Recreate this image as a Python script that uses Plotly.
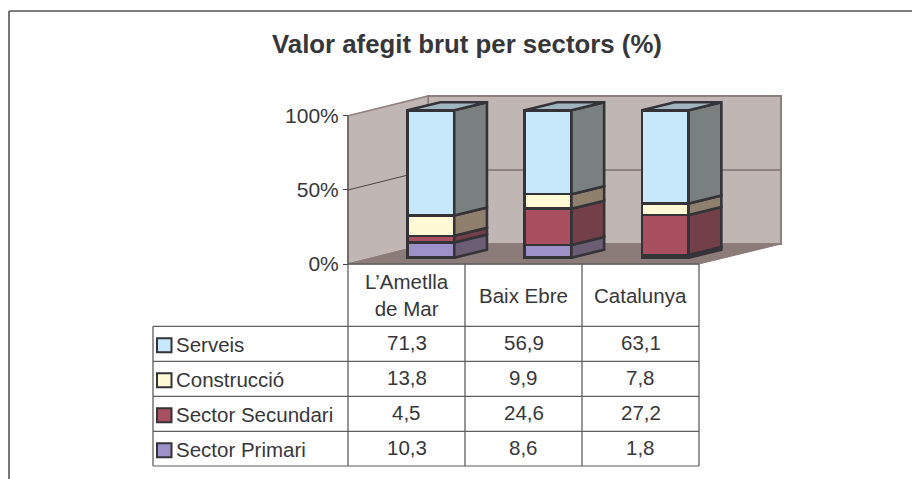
import plotly.graph_objects as go

W, H = 912, 479
TITLE = "Valor afegit brut per sectors (%)"
categories = ["L’Ametlla<br>de Mar", "Baix Ebre", "Catalunya"]
series_names = ["Serveis", "Construcció", "Sector Secundari", "Sector Primari"]
serveis = [71.3, 56.9, 63.1]
construccio = [13.8, 9.9, 7.8]
secundari = [4.5, 24.6, 27.2]
primari = [10.3, 8.6, 1.8]
ticks = [0, 50, 100]

FONT = "Liberation Sans"
TXT = "#37373b"
TABLE_SIZE = 20.5
front = {"Serveis": "#c6e8fa", "Construcció": "#fff9d6", "Sector Secundari": "#a8505f", "Sector Primari": "#9c92c8"}
side = {"Serveis": "#7a7f80", "Construcció": "#8f806d", "Sector Secundari": "#733f48", "Sector Primari": "#6b5d74"}
values = {"Serveis": serveis, "Construcció": construccio, "Sector Secundari": secundari, "Sector Primari": primari}
EDGE = "#333338"

X0, DX_PX = 430.9, 117.2
Y0, PX_PER = 257.7, 1.474
BW = 46.7 / DX_PX
DEPTH_X = 32.7 / DX_PX
DEPTH_Y = 8.0 / PX_PER


def px(x):
    return x / W


def py(y):
    return 1 - y / H


def path(points):
    return "M " + " L ".join(f"{px(x):.5f} {py(y):.5f}" for x, y in points) + " Z"


fig = go.Figure()

stack_order = ["Sector Primari", "Sector Secundari", "Construcció", "Serveis"]
for name in stack_order:
    fig.add_trace(go.Bar(x=[0, 1, 2], y=values[name], width=BW, name=name, showlegend=False,
                         marker=dict(color=front[name], line=dict(color=EDGE, width=2.6))))

n = len(categories)
totals = [sum(values[s][i] for s in stack_order) for i in range(n)]
cum = [0.0] * n
for name in stack_order:
    xs, ys = [], []
    for i in range(n):
        lo = cum[i]
        hi = lo + values[name][i] * 100 / totals[i]
        r = i + BW / 2
        xs += [r, r + DEPTH_X, r + DEPTH_X, r, r, None]
        ys += [lo, lo + DEPTH_Y, hi + DEPTH_Y, hi, lo, None]
        cum[i] = hi
    fig.add_trace(go.Scatter(x=xs, y=ys, mode="lines", fill="toself", fillcolor=side[name],
                             line=dict(color=EDGE, width=2.6), showlegend=False, hoverinfo="skip"))
xs, ys = [], []
for i in range(n):
    l, r = i - BW / 2, i + BW / 2
    xs += [l, r, r + DEPTH_X, l + DEPTH_X, l, None]
    ys += [100, 100, 100 + DEPTH_Y, 100 + DEPTH_Y, 100, None]
fig.add_trace(go.Scatter(x=xs, y=ys, mode="lines", fill="toself", fillcolor="#a0b5bf",
                         line=dict(color=EDGE, width=2.6), showlegend=False, hoverinfo="skip"))

fig.add_trace(go.Scatter(x=[0, 0, 0], y=ticks, yaxis="y2", mode="lines", line=dict(width=0),
                         opacity=0, showlegend=False, hoverinfo="skip"))

shapes = []
WALL, WALL_E, FLOOR = "#c0b6b3", "#8f7f7c", "#8c7c79"
shapes.append(dict(type="line", xref="paper", yref="paper", x0=px(9), x1=1, y0=py(11), y1=py(11),
                   line=dict(color="#555555", width=1.6), layer="below"))
shapes.append(dict(type="line", xref="paper", yref="paper", x0=px(9), x1=px(9), y0=py(11), y1=0,
                   line=dict(color="#555555", width=1.6), layer="below"))
shapes.append(dict(type="path", xref="paper", yref="paper", path=path([(428, 96), (781, 96), (781, 244), (428, 244)]),
                   fillcolor=WALL, line=dict(color=WALL_E, width=2), layer="below"))
shapes.append(dict(type="path", xref="paper", yref="paper", path=path([(348, 115.7), (428, 96), (428, 244), (348, 264)]),
                   fillcolor=WALL, line=dict(color=WALL_E, width=1.5), layer="below"))
shapes.append(dict(type="path", xref="paper", yref="paper", path=path([(348, 264), (428, 244), (781, 244), (699, 264)]),
                   fillcolor=FLOOR, line=dict(color=FLOOR, width=1), layer="below"))
shapes.append(dict(type="line", xref="paper", yref="paper", x0=px(348), x1=px(428), y0=py(190), y1=py(170),
                   line=dict(color="#4a4444", width=1), layer="below"))
shapes.append(dict(type="line", xref="paper", yref="paper", x0=px(428), x1=px(781), y0=py(170), y1=py(170),
                   line=dict(color="#7f7070", width=1.3), layer="below"))
shapes.append(dict(type="line", xref="paper", yref="paper", x0=px(348), x1=px(348), y0=py(115.7), y1=py(264),
                   line=dict(color="#6a5f5d", width=1.5), layer="below"))

GRID = "#5f5f5f"
col_x = [348, 465, 582, 699]
row_y = [326.3, 361.3, 396.3, 431.3, 466]
LEFT = 153


def hline(x0, x1, y, w=1.2):
    shapes.append(dict(type="line", xref="paper", yref="paper", x0=px(x0), x1=px(x1), y0=py(y), y1=py(y),
                       line=dict(color=GRID, width=w)))


def vline(x, y0, y1, w=1.3):
    shapes.append(dict(type="line", xref="paper", yref="paper", x0=px(x), x1=px(x), y0=py(y0), y1=py(y1),
                       line=dict(color=GRID, width=w)))


hline(348, 699, 264, 1.6)
for y in row_y:
    hline(LEFT, 699, y)
for x in col_x:
    vline(x, 264, 466)
vline(LEFT, 326.3, 466)

ann = []
for i, cat in enumerate(categories):
    cx = (col_x[i] + col_x[i + 1]) / 2
    ann.append(dict(x=px(cx), y=py(295), xref="paper", yref="paper", text=cat, showarrow=False,
                    font=dict(family=FONT, size=TABLE_SIZE, color=TXT), align="center",
                    xanchor="center", yanchor="middle"))
for r, name in enumerate(series_names):
    cy = (row_y[r] + row_y[r + 1]) / 2
    shapes.append(dict(type="rect", xref="paper", yref="paper", x0=px(157), x1=px(171.5), y0=py(cy - 7 + 1.5), y1=py(cy + 7 + 1.5),
                       fillcolor=front[name], line=dict(color=EDGE, width=2)))
    ann.append(dict(x=px(174), y=py(cy + 1), xref="paper", yref="paper", text=name, showarrow=False,
                    font=dict(family=FONT, size=TABLE_SIZE, color=TXT), xanchor="left", yanchor="middle"))
    for i in range(n):
        cx = (col_x[i] + col_x[i + 1]) / 2
        ann.append(dict(x=px(cx), y=py(cy - 1), xref="paper", yref="paper",
                        text=f"{values[name][i]:.1f}".replace(".", ","), showarrow=False,
                        font=dict(family=FONT, size=TABLE_SIZE, color=TXT), xanchor="center", yanchor="middle"))
ann.append(dict(x=px(466.5), y=py(44), xref="paper", yref="paper", text=f"<b>{TITLE}</b>", showarrow=False,
                font=dict(family=FONT, size=25.8, color=TXT), xanchor="center", yanchor="middle"))

fig.update_layout(
    width=W, height=H, margin=dict(l=0, r=0, t=0, b=0), autosize=False,
    paper_bgcolor="white", plot_bgcolor="rgba(0,0,0,0)", barmode="stack", barnorm="percent",
    showlegend=False, shapes=shapes, annotations=ann,
    xaxis=dict(visible=False, range=[-X0 / DX_PX, (W - X0) / DX_PX], fixedrange=True),
    yaxis=dict(visible=False, range=[(Y0 - H) / PX_PER, Y0 / PX_PER], fixedrange=True),
    yaxis2=dict(overlaying="y", anchor="free", position=348 / W, side="left",
                range=[(264 - H) / 1.483, 264 / 1.483], tickvals=ticks, ticktext=[f"{t}%" for t in ticks],
                showgrid=False, zeroline=False, showline=False, ticks="outside", ticklen=5, tickwidth=1,
                tickcolor="#444444", tickfont=dict(family=FONT, size=21, color=TXT), fixedrange=True),
)
fig.write_html("out.html", config={"displayModeBar": False},
               post_script="document.body.style.margin='0';document.documentElement.style.overflow='hidden';")
